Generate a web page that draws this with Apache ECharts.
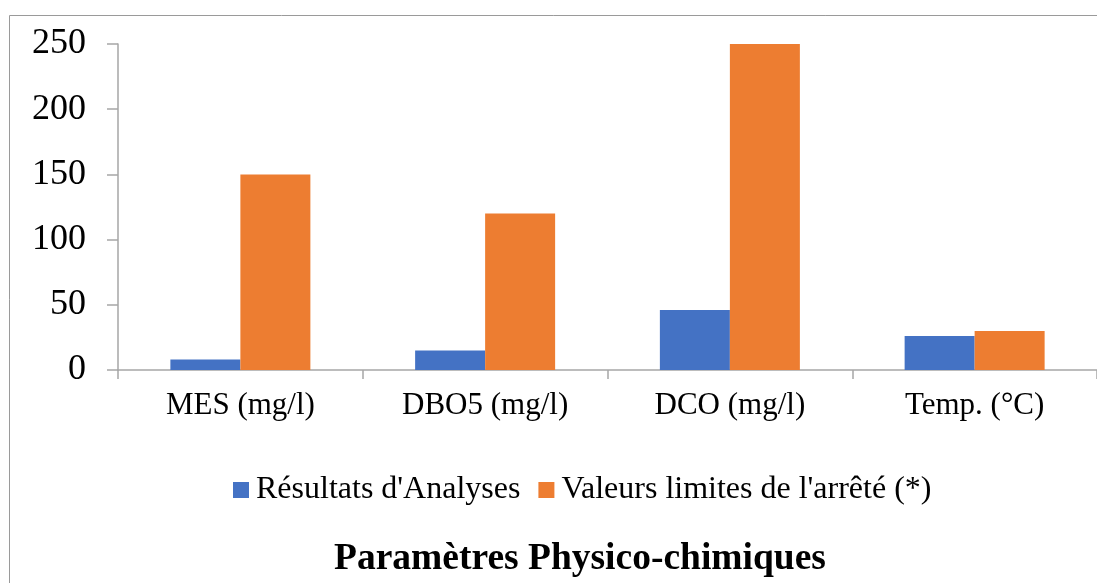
<!DOCTYPE html>
<html>
<head>
<meta charset="utf-8">
<script src="https://cdn.jsdelivr.net/npm/echarts@6/dist/echarts.min.js"></script>
<style>html,body{margin:0;padding:0;background:#fff;}#c{width:1097px;height:583px;}</style>
</head>
<body>
<div id="c"></div>
<script>
var categories = ['MES (mg/l)', 'DBO5 (mg/l)', 'DCO (mg/l)', 'Temp. (°C)'];
var resultats = [8, 15, 46, 26];
var limites = [150, 120, 250, 30];
var seriesNames = ["Résultats d'Analyses", "Valeurs limites de l'arrêté (*)"];
var yTicks = [0, 50, 100, 150, 200, 250];
var titleText = 'Paramètres Physico-chimiques';

var font = '"Liberation Serif", "Times New Roman", serif';
var chart = echarts.init(document.getElementById('c'), null, {renderer: 'canvas'});
chart.setOption({
  animation: false,
  backgroundColor: '#ffffff',
  graphic: [{
    type: 'rect', silent: true, z: -10,
    shape: {x: 9.5, y: 15.5, width: 1200, height: 700},
    style: {fill: 'none', stroke: '#9a9a9a', lineWidth: 1}
  }],
  title: {
    text: titleText, left: 329, top: 535,
    textStyle: {fontFamily: font, fontWeight: 'bold', fontSize: 37.5, color: '#000'}
  },
  legend: {
    left: 228, top: 469,
    itemWidth: 16, itemHeight: 16, itemGap: 18,
    icon: 'rect',
    textStyle: {fontFamily: font, fontSize: 32, color: '#000', padding: [0,0,0,2]},
    data: seriesNames
  },
  grid: {left: 118, top: 44, width: 980, height: 326, containLabel: false},
  xAxis: {
    type: 'category', data: categories, boundaryGap: true,
    axisLine: {lineStyle: {color: '#a6a6a6', width: 1.5}},
    axisTick: {show: true, length: 9, alignWithLabel: false, lineStyle: {color: '#a6a6a6', width: 1.5}},
    axisLabel: {fontFamily: font, fontSize: 31, color: '#000', margin: 20},
    splitLine: {show: false}
  },
  yAxis: {
    type: 'value', min: yTicks[0], max: yTicks[yTicks.length-1], interval: 50,
    axisLine: {show: true, lineStyle: {color: '#a6a6a6', width: 1.5}},
    axisTick: {show: true, length: 11, lineStyle: {color: '#a6a6a6', width: 1.5}},
    axisLabel: {fontFamily: font, fontSize: 36, color: '#000', margin: 32},
    splitLine: {show: false}
  },
  series: [
    {name: seriesNames[0], type: 'bar', data: resultats, barWidth: 70, barGap: '0%',
     itemStyle: {color: '#4472C4'}},
    {name: seriesNames[1], type: 'bar', data: limites, barWidth: 70, barGap: '0%',
     itemStyle: {color: '#ED7D31'}}
  ]
});
</script>
</body>
</html>
